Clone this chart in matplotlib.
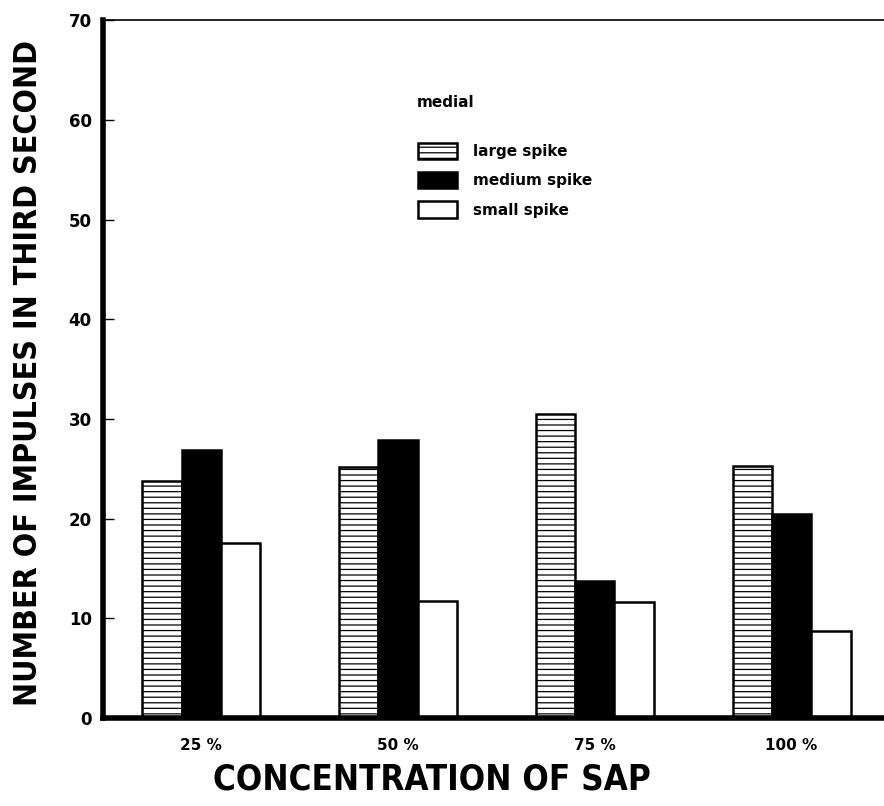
import matplotlib
matplotlib.use("Agg")
import matplotlib.pyplot as plt
import numpy as np

concentrations = ['25 %', '50 %', '75 %', '100 %']
large_spike = [23.8, 25.2, 30.5, 25.3]
medium_spike = [26.9, 27.9, 13.8, 20.5]
small_spike = [17.6, 11.7, 11.6, 8.7]

plt.rcParams['hatch.linewidth'] = 0.9

fig = plt.figure(figsize=(8.84, 8.06), dpi=100)
ax = fig.add_axes([0.1165, 0.109, 0.8835, 0.866])

x = np.arange(len(concentrations))
w = 0.2
b1 = ax.bar(x - w, large_spike, width=w, color='white', edgecolor='black',
            hatch='---', linewidth=1.8, label='large spike')
b2 = ax.bar(x, medium_spike, width=w, color='black', edgecolor='black',
            linewidth=1.8, label='medium spike')
b3 = ax.bar(x + w, small_spike, width=w, color='white', edgecolor='black',
            linewidth=1.8, label='small spike')

ax.set_xlim(-0.5, 3.47)
ax.set_ylim(0, 70)
ax.set_yticks(range(0, 71, 10))
ax.set_xticks(x)
ax.set_xticklabels(concentrations, fontsize=11, fontweight='bold')
ax.tick_params(axis='x', length=0, pad=14)
ax.tick_params(axis='y', direction='in', length=8, width=1, pad=8,
               labelsize=12)
for t in ax.get_yticklabels():
    t.set_fontweight('bold')

ax.spines['right'].set_visible(False)
ax.spines['left'].set_linewidth(4)
ax.spines['bottom'].set_linewidth(4)
ax.spines['top'].set_linewidth(1.2)

ax.set_ylabel('NUMBER OF IMPULSES IN THIRD SECOND', fontsize=23,
              fontweight='bold', fontstretch='condensed', labelpad=17)
ax.yaxis.set_label_coords(-0.076, 0.495)
ax.set_xlabel('CONCENTRATION OF SAP', fontsize=25, fontweight='bold',
              fontstretch='condensed', labelpad=6)
ax.xaxis.set_label_coords(0.421, -0.063)

ax.text(0.402, 0.8825, 'medial', transform=ax.transAxes, fontsize=11,
        fontweight='bold', va='center', ha='left')
leg = ax.legend(handles=[b1, b2, b3], loc='upper left',
                bbox_to_anchor=(0.403, 0.824), frameon=False,
                borderaxespad=0, borderpad=0,
                prop={'weight': 'bold', 'size': 11},
                handlelength=2.6, handleheight=1.25, labelspacing=0.85,
                handletextpad=1.0)

fig.savefig('out.png', dpi=100)
